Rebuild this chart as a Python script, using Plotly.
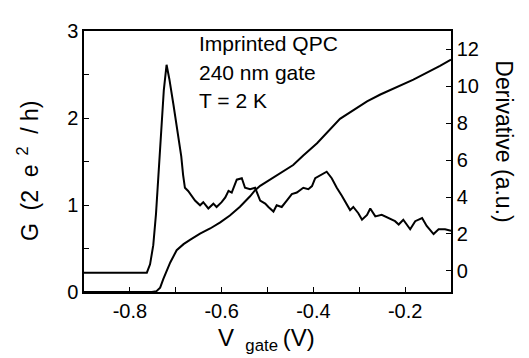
import plotly.graph_objects as go

# Conductance G (2e^2/h) vs gate voltage (left axis)
g_vgate = [-0.9, -0.752, -0.742, -0.734, -0.727, -0.720, -0.712, -0.698, -0.683, -0.669,
           -0.647, -0.625, -0.603, -0.582, -0.560, -0.538, -0.527, -0.516, -0.473, -0.444,
           -0.422, -0.392, -0.342, -0.305, -0.283, -0.254, -0.225, -0.182, -0.124, -0.1]
g_values = [0.0, 0.0, 0.01, 0.05, 0.15, 0.24, 0.34, 0.48, 0.55, 0.60,
            0.67, 0.73, 0.80, 0.88, 0.98, 1.10, 1.17, 1.22, 1.36, 1.46,
            1.57, 1.71, 1.99, 2.12, 2.19, 2.27, 2.34, 2.44, 2.60, 2.67]

# Derivative (a.u.) vs gate voltage (right axis)
d_vgate = [-0.9, -0.763, -0.756, -0.749, -0.743, -0.738, -0.734, -0.730, -0.726, -0.720,
           -0.714, -0.705, -0.694, -0.688, -0.684, -0.680, -0.673, -0.665, -0.658, -0.647,
           -0.640, -0.629, -0.618, -0.611, -0.600, -0.592, -0.585, -0.578, -0.567, -0.556,
           -0.549, -0.538, -0.527, -0.516, -0.505, -0.498, -0.487, -0.480, -0.469, -0.458,
           -0.447, -0.436, -0.422, -0.411, -0.403, -0.396, -0.385, -0.371, -0.360, -0.349,
           -0.338, -0.327, -0.320, -0.313, -0.302, -0.294, -0.283, -0.276, -0.265, -0.251,
           -0.236, -0.222, -0.214, -0.204, -0.189, -0.178, -0.163, -0.153, -0.138, -0.127,
           -0.113, -0.1]
d_values = [-0.1, -0.1, 0.35, 1.39, 3.1, 5.0, 6.3, 8.0, 9.8, 11.17,
            10.4, 9.0, 7.3, 6.2, 5.2, 4.5, 4.33, 4.07, 3.81, 3.55,
            3.72, 3.38, 3.64, 3.46, 3.72, 3.98, 4.33, 4.24, 4.94, 5.02,
            4.50, 4.42, 4.50, 3.81, 3.64, 3.46, 3.21, 3.55, 3.46, 3.81,
            4.16, 4.24, 4.50, 4.42, 4.59, 5.02, 5.19, 5.37, 5.02, 4.50,
            4.07, 3.64, 3.29, 3.46, 3.12, 2.77, 3.03, 3.38, 2.95, 3.03,
            2.86, 2.69, 2.51, 2.77, 2.25, 2.69, 2.86, 2.43, 1.99, 2.25,
            2.25, 2.17]

x_tick_vals = [-0.8, -0.6, -0.4, -0.2]
x_tick_text = ["-0.8", "-0.6", "-0.4", "-0.2"]
g_tick_vals = [0, 1, 2, 3]
d_tick_vals = [0, 2, 4, 6, 8, 10, 12]

FONT = "Arial, Liberation Sans, sans-serif"
line_style = dict(color="black", width=2)

fig = go.Figure()
fig.add_trace(go.Scatter(x=g_vgate, y=g_values, mode="lines", line=line_style,
                         yaxis="y", showlegend=False))
fig.add_trace(go.Scatter(x=d_vgate, y=d_values, mode="lines", line=line_style,
                         yaxis="y2", showlegend=False))

axis_common = dict(showline=True, linecolor="black", linewidth=1.5, ticks="inside",
                   ticklen=5, tickwidth=1.2, tickcolor="black", showgrid=False,
                   zeroline=False, tickfont=dict(family=FONT, size=20, color="black"))

# page body has an 8px margin: the figure is shifted by (8, 8) in the window
fig.update_layout(
    width=513, height=350,
    margin=dict(l=76, r=70, t=12, b=66),
    paper_bgcolor="white", plot_bgcolor="white",
    xaxis=dict(range=[-0.9, -0.1], tickvals=x_tick_vals, ticktext=x_tick_text,
               mirror=True, minor=dict(dtick=0.1, tick0=-0.9, ticks="inside", ticklen=5,
                                       tickcolor="black"),
               **axis_common),
    yaxis=dict(range=[0, 3], tickvals=g_tick_vals, mirror=True,
               minor=dict(dtick=0.5, ticks="inside", ticklen=5, tickcolor="black"),
               **axis_common),
    yaxis2=dict(range=[-1.15, 13], tickvals=d_tick_vals, overlaying="y", side="right",
                **axis_common),
)

anno_font = dict(family=FONT, size=21, color="black")
for txt, yp in [("Imprinted QPC", 0.952), ("240 nm gate", 0.842), ("T = 2 K", 0.732)]:
    fig.add_annotation(text=txt, xref="paper", yref="paper", x=(197 - 84) / 367, y=yp,
                       xanchor="left", yanchor="middle", showarrow=False, font=anno_font)

fig.add_annotation(text="G&nbsp;&nbsp;(2&nbsp;&nbsp;e<sup>&nbsp;&nbsp;2</sup>&nbsp;&nbsp;/&nbsp;h)",
                   xref="paper", yref="paper",
                   x=-(84 - 28) / 367, y=(292 - 166) / 272, textangle=-90, xanchor="center",
                   yanchor="middle", showarrow=False, font=dict(family=FONT, size=23, color="black"))
fig.add_annotation(text="Derivative (a.u.)", xref="paper", yref="paper",
                   x=1 + (504 - 451) / 367, y=(292 - 135) / 272, textangle=90, xanchor="center",
                   yanchor="middle", showarrow=False, font=dict(family=FONT, size=23, color="black"))
fig.add_annotation(text="V&nbsp;<sub>&nbsp;gate&nbsp;</sub>(V)", xref="paper", yref="paper",
                   x=(266 - 84) / 367, y=-(341 - 292) / 272, xanchor="center", yanchor="middle",
                   showarrow=False, font=dict(family=FONT, size=24, color="black"))

fig.write_html("out.html")
